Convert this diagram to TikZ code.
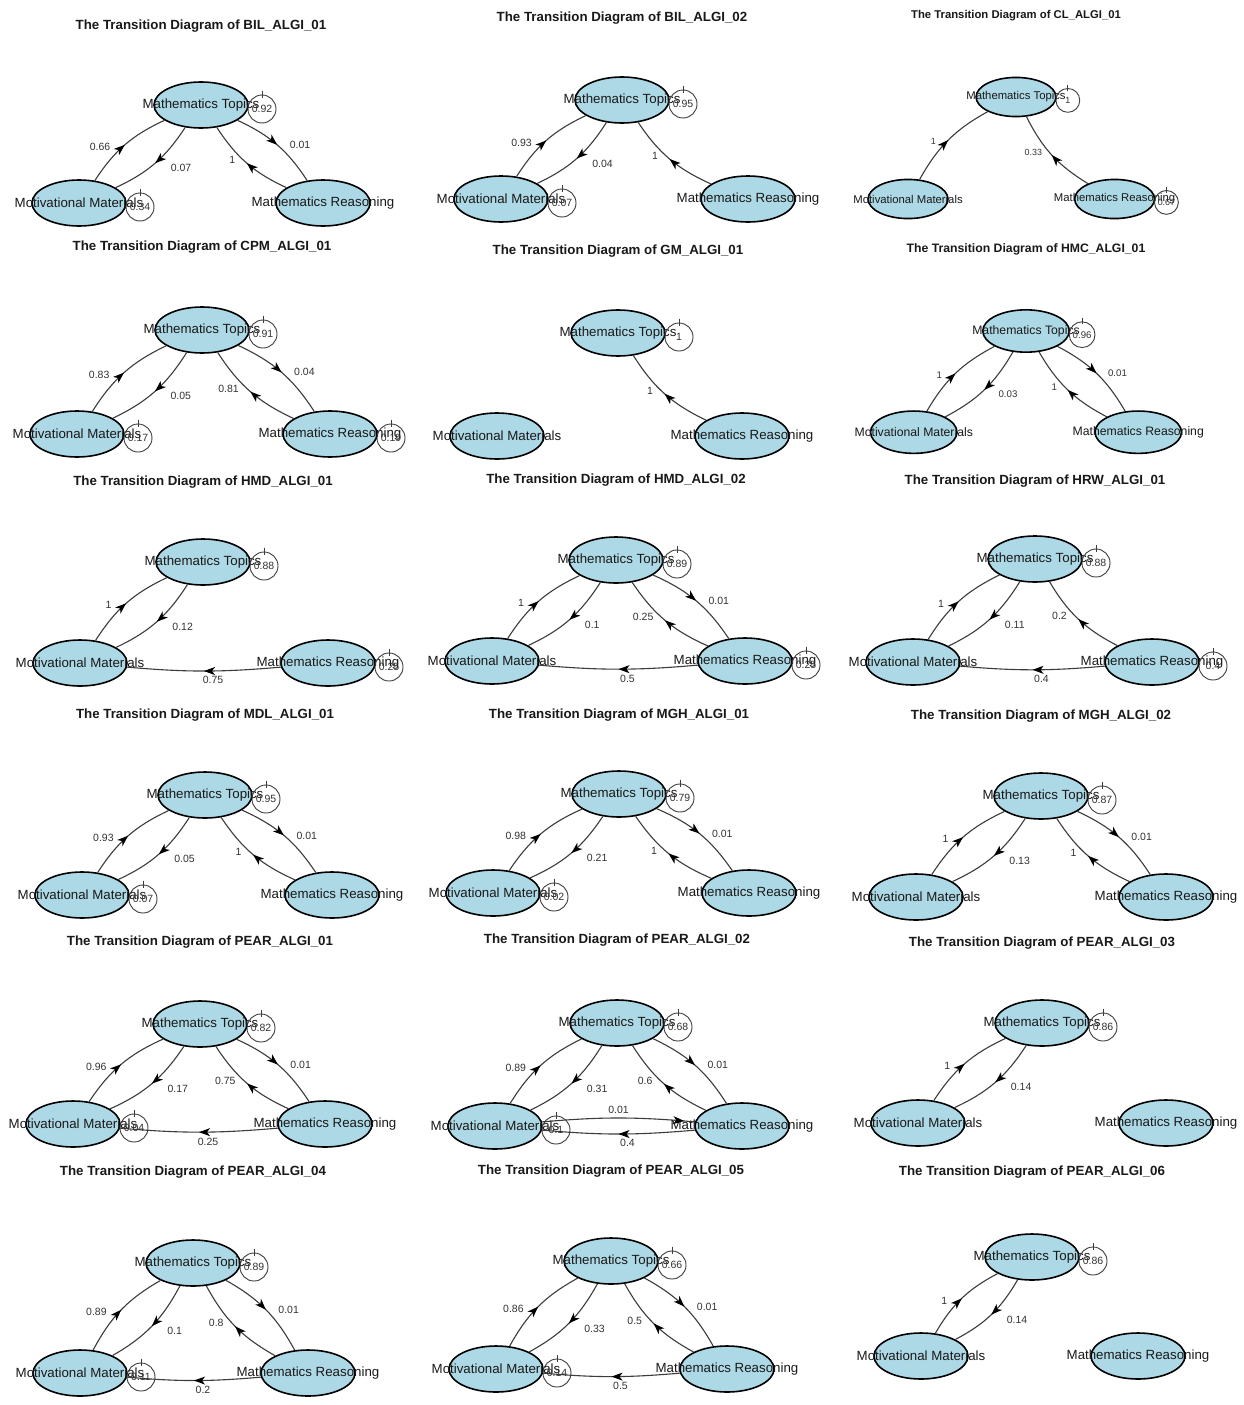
\documentclass[tikz,border=0pt]{standalone}
\usepackage{fontspec}
\setmainfont{Liberation Sans}
\usetikzlibrary{shapes.geometric,arrows.meta,decorations.markings}
\definecolor{nodefill}{RGB}{173,216,230}
\definecolor{edgegray}{RGB}{60,60,60}

\begin{document}
\begin{tikzpicture}[x=1pt, y=-1pt,
  stateNode/.style={ellipse, draw=black, line width=1.6pt, fill=nodefill,
    minimum width=94pt, minimum height=46pt, inner sep=0pt,
    font=\fontsize{13.3pt}{15pt}\selectfont, text=black!90},
  panelTitle/.style={font=\fontsize{13.3pt}{15pt}\selectfont\bfseries, text=black!90},
  trans/.style={draw=edgegray, line width=1.1pt, postaction={decorate},
    decoration={markings, mark=at position #1 with {\arrow[black]{Stealth[length=11pt, width=8pt, inset=3pt]}}}},
  trans/.default=0.5,
  trLabel/.style={font=\fontsize{10.5pt}{12pt}\selectfont, text=black!80, inner sep=0pt},
  selfLoop/.style={circle, draw=edgegray, line width=0.9pt, minimum size=28pt, inner sep=0pt,
    font=\fontsize{10.5pt}{12pt}\selectfont, text=black!80}]

  \useasboundingbox[fill=white] (0,0) rectangle (1243,1405);

  % one panel per model: position, scale, self loops, then M->T, T->M, R->T, T->R, R->M, M->R
  \foreach \id/\ttl/\cx/\cy/\psc/\lx/\rx/\dy/\ty/\sT/\sM/\sR/\eMT/\eTM/\eRT/\eTR/\eRM/\eMR in {
    1/BIL\_ALGI\_01/201/105/1/-122/122/98/-79/0.92/0.34/0/0.66/0.07/1/0.01/0/0,
    2/BIL\_ALGI\_02/622/100/1/-121/126/99/-82/0.95/0.07/0/0.93/0.04/1/0/0/0,
    3/CL\_ALGI\_01/1016/97/0.85/-127/116/120/-96/1/0/0.67/1/0/0.33/0/0/0,
    4/CPM\_ALGI\_01/202/330/1/-125/128/104/-83/0.91/0.17/0.19/0.83/0.05/0.81/0.04/0/0,
    5/GM\_ALGI\_01/618/333/1/-121/124/103/-82/1/0/0/0/0/1/0/0/0,
    6/HMC\_ALGI\_01/1026/331/0.92/-122/122/110/-89/0.96/0/0/1/0.03/1/0.01/0/0,
    7/HMD\_ALGI\_01/203/562/1/-123/125/101/-80/0.88/0/0.25/1/0.12/0/0/0.75/0,
    8/HMD\_ALGI\_02/616/560/1/-124/129/101/-80/0.89/0/0.25/1/0.1/0.25/0.01/0.5/0,
    9/HRW\_ALGI\_01/1035/559/1/-122/117/103/-78/0.88/0/0.4/1/0.11/0.2/0/0.4/0,
    10/MDL\_ALGI\_01/205/795/1/-123/127/100/-80/0.95/0.07/0/0.93/0.05/1/0.01/0/0,
    11/MGH\_ALGI\_01/619/794/1/-126/130/99/-79/0.79/0.02/0/0.98/0.21/1/0.01/0/0,
    12/MGH\_ALGI\_02/1041/796/1/-125/125/101/-80/0.87/0/0/1/0.13/1/0.01/0/0,
    13/PEAR\_ALGI\_01/200/1024/1/-127/125/100/-82/0.82/0.04/0/0.96/0.17/0.75/0.01/0.25/0,
    14/PEAR\_ALGI\_02/617/1023/1/-122/125/103/-83/0.68/0.1/0/0.89/0.31/0.6/0.01/0.4/0.01,
    15/PEAR\_ALGI\_03/1042/1023/1/-124/124/100/-80/0.86/0/0/1/0.14/0/0/0/0,
    16/PEAR\_ALGI\_04/193/1263/1/-113/115/110/-91/0.89/0.11/0/0.89/0.1/0.8/0.01/0.2/0,
    17/PEAR\_ALGI\_05/611/1261/1/-115/116/108/-90/0.66/0.14/0/0.86/0.33/0.5/0.01/0.5/0,
    18/PEAR\_ALGI\_06/1032/1257/1/-111/106/99/-85/0.86/0/0/1/0.14/0/0/0/0} {
    \begin{scope}[shift={(\cx,\cy)}, scale=\psc, transform shape]
      \node[panelTitle] (h\id) at (0,\ty) {The Transition Diagram of \ttl};
      \node[stateNode] (t\id) at (0,0) {\makebox[0pt]{Mathematics Topics}};
      \node[stateNode] (m\id) at (\lx,\dy) {\makebox[0pt]{Motivational Materials}};
      \node[stateNode] (r\id) at (\rx,\dy) {\makebox[0pt]{Mathematics Reasoning}};

      % transitions
      \ifdim\eMT pt>0pt
        \draw[trans] (m\id) to[bend left=16] node[trLabel, anchor=east, shift={(-14,2)}] {\eMT} (t\id);
      \fi
      \ifdim\eTM pt>0pt
        \draw[trans] (t\id) to[bend left=16] node[trLabel, anchor=west, shift={(15,5)}] {\eTM} (m\id);
      \fi
      \ifdim\eRT pt>0pt
        \draw[trans] (r\id) to[bend left=16] node[trLabel, anchor=east, shift={(-11,-3)}] {\eRT} (t\id);
      \fi
      \ifdim\eTR pt>0pt
        \draw[trans] (t\id) to[bend left=16] node[trLabel, anchor=west, shift={(12,0)}] {\eTR} (r\id);
      \fi
      \ifdim\eRM pt>0pt
        \draw[trans] (r\id) to[bend left=5] node[trLabel, anchor=north, shift={(9,5)}] {\eRM} (m\id);
      \fi
      \ifdim\eMR pt>0pt
        \draw[trans=0.93] (m\id) to[bend left=5] node[trLabel, anchor=south, shift={(0,-4)}] {\eMR} (r\id);
      \fi

      % self loops
      \ifdim\sT pt>0pt
        \node[selfLoop] (lt\id) at (61,4) {\sT};
        \draw[edgegray, line width=0.8pt] ([yshift=4pt]lt\id.north) -- ([yshift=-3pt]lt\id.north);
      \fi
      \ifdim\sM pt>0pt
        \node[selfLoop] (lm\id) at (\lx+61,\dy+4) {\sM};
        \draw[edgegray, line width=0.8pt] ([yshift=4pt]lm\id.north) -- ([yshift=-3pt]lm\id.north);
      \fi
      \ifdim\sR pt>0pt
        \node[selfLoop] (lr\id) at (\rx+61,\dy+4) {\sR};
        \draw[edgegray, line width=0.8pt] ([yshift=4pt]lr\id.north) -- ([yshift=-3pt]lr\id.north);
      \fi
    \end{scope}
  }
\end{tikzpicture}
\end{document}
